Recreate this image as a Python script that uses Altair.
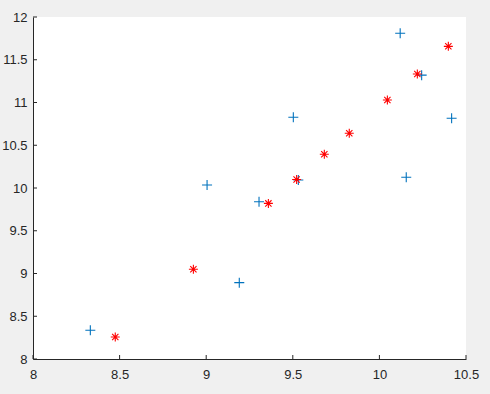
import altair as alt
import pandas as pd

# Observed points (blue +)
obs_x = [8.331, 9.005, 9.191, 9.305, 9.503, 9.532, 10.12, 10.155, 10.244, 10.417]
obs_y = [8.336, 10.035, 8.893, 9.84, 10.827, 10.094, 11.81, 10.125, 11.32, 10.815]

# Fitted points (red *)
fit_x = [8.475, 8.926, 9.359, 9.522, 9.682, 9.826, 10.046, 10.219, 10.398]
fit_y = [8.257, 9.05, 9.82, 10.10, 10.394, 10.64, 11.029, 11.333, 11.657]

x_ticks = [8, 8.5, 9, 9.5, 10, 10.5]
y_ticks = [8, 8.5, 9, 9.5, 10, 10.5, 11, 11.5, 12]

W, H = 433, 342
AX = "#262626"

obs = pd.DataFrame({"x": obs_x, "y": obs_y})
fit = pd.DataFrame({"x": fit_x, "y": fit_y})
xt = pd.DataFrame({"x": x_ticks})
yt = pd.DataFrame({"y": y_ticks})

xs = alt.Scale(domain=[8, 10.5], nice=False, zero=False)
ys = alt.Scale(domain=[8, 12], nice=False, zero=False)

xaxis = alt.Axis(values=x_ticks, title=None, grid=False, ticks=False, format="~g",
                 domainColor=AX, domainWidth=1, labelColor=AX, labelFontSize=13,
                 labelFont="Liberation Sans", labelPadding=9, labelFlush=False)
yaxis = alt.Axis(values=y_ticks, title=None, grid=False, ticks=False, format="~g",
                 domainColor=AX, domainWidth=1, labelColor=AX, labelFontSize=13,
                 labelFont="Liberation Sans", labelPadding=6, labelFlush=False)

PLUS = "M-1,0L1,0M0,-1L0,1"
STAR = "M-1,0L1,0M0,-1L0,1M-0.7,-0.7L0.7,0.7M-0.7,0.7L0.7,-0.7"

p_obs = alt.Chart(obs).mark_point(shape=PLUS, filled=False, size=100,
                                  strokeWidth=1.1, color="#0072BD", opacity=1).encode(
    x=alt.X("x:Q", scale=xs, axis=xaxis),
    y=alt.Y("y:Q", scale=ys, axis=yaxis),
)
p_fit = alt.Chart(fit).mark_point(shape=STAR, filled=False, size=81,
                                  strokeWidth=1.1, color="#FF0000", opacity=1).encode(
    x=alt.X("x:Q", scale=xs, axis=xaxis),
    y=alt.Y("y:Q", scale=ys, axis=yaxis),
)
xtick = alt.Chart(xt).mark_rule(color=AX, strokeWidth=1).encode(
    x=alt.X("x:Q", scale=xs, axis=xaxis),
    y=alt.value(H), y2=alt.value(H - 4),
)
ytick = alt.Chart(yt).mark_rule(color=AX, strokeWidth=1).encode(
    y=alt.Y("y:Q", scale=ys, axis=yaxis),
    x=alt.value(0), x2=alt.value(4),
)

chart = alt.layer(p_obs, p_fit, xtick, ytick).properties(
    width=W, height=H,
    background="#f0f0f0",
    padding={"left": 33, "top": 17, "right": 24, "bottom": 35},
    autosize=alt.AutoSizeParams(type="none"),
).configure_view(stroke=None, fill="white")

chart.save("out.html", embed_options={"renderer": "svg", "actions": False})
